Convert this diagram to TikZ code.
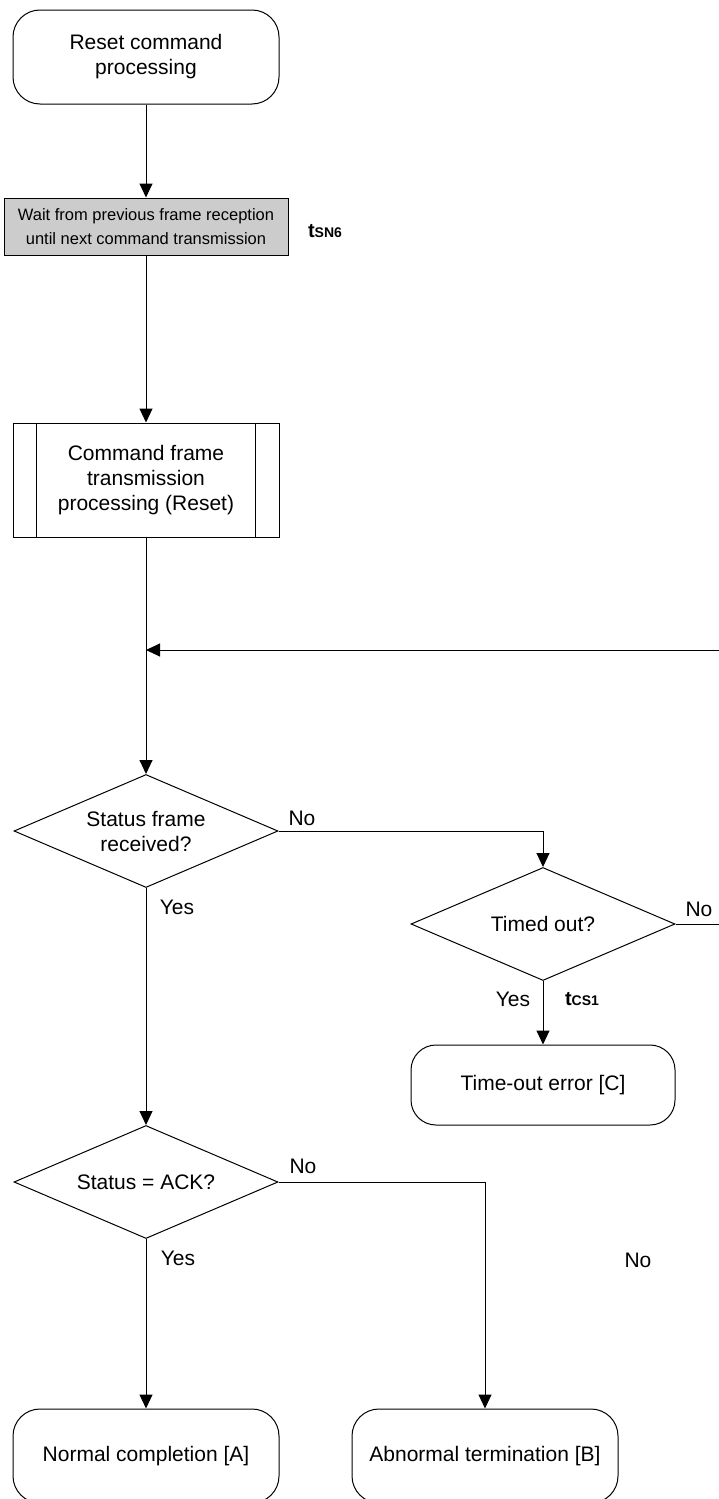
\documentclass[tikz,border=0pt]{standalone}
\usepackage{fontspec}
\setmainfont{Liberation Sans}
\usetikzlibrary{shapes.geometric,arrows.meta}
\begin{document}
\begin{tikzpicture}[x=1pt,y=-1pt,line width=1pt,
  txt/.style={font=\fontsize{21}{25}\selectfont},
  term/.style={draw,rounded corners=27pt,minimum width=266pt,minimum height=94pt,align=center,inner sep=0pt,txt},
  termc/.style={draw,rounded corners=25pt,minimum width=264pt,minimum height=80pt,align=center,inner sep=0pt,txt},
  waitbox/.style={draw,fill=black!20,minimum width=284pt,minimum height=57pt,align=center,inner sep=0pt,font=\fontsize{16.5}{24}\selectfont},
  procbox/.style={draw,minimum width=266pt,minimum height=114pt,align=center,inner sep=0pt,txt},
  decision/.style={draw,diamond,aspect=2.34,minimum width=264pt,minimum height=113pt,inner sep=0pt,align=center,txt},
  lbl/.style={txt,inner sep=0pt},
  tlbl/.style={font=\bfseries,inner sep=0pt},
  arr/.style={-{Triangle[length=14pt,width=13pt]}}]
\useasboundingbox (0,0) rectangle (719,1499);
\clip (0,0) rectangle (719,1499);

\node[term] (start) at (146,57) {Reset command\\processing};
\node[waitbox] (wait) at (146,226.5) {Wait from previous frame reception\\until next command transmission};
\node[tlbl] (tsn) at (325,231) {\fontsize{20}{20}\selectfont t\fontsize{14}{14}\selectfont SN6};
\node[procbox] (cmd) at (146,480) {Command frame\\transmission\\processing (Reset)};
\draw ([xshift=24pt]cmd.north west) -- ([xshift=24pt]cmd.south west);
\draw ([xshift=-24pt]cmd.north east) -- ([xshift=-24pt]cmd.south east);

\node[decision] (d1) at (146,831) {Status frame\\received?};
\node[decision] (d2) at (543,924) {Timed out?};
\node[termc] (tc) at (543,1085) {Time-out error [C]};
\node[decision] (d3) at (146,1182) {Status = ACK?};
\node[term] (ta) at (146,1456) {Normal completion [A]};
\node[term] (tb) at (485,1456) {Abnormal termination [B]};

\coordinate (loopR) at (719,650);
\coordinate (loopL) at (146,650);
\coordinate (noR) at (719,924);

\draw[arr] (start) -- (wait);
\draw[arr] (wait) -- (cmd);
\draw[arr] (cmd) -- (d1);
\draw[arr] (loopR) -- (loopL);
\draw[arr] (d1.east) -| (d2.north);
\draw (d2.east) -- (noR);
\draw[arr] (d2) -- (tc);
\draw[arr] (d1) -- (d3);
\draw[arr] (d3.east) -| (tb.north);
\draw[arr] (d3) -- (ta);

\node[lbl] (no1) at (302,818) {No};
\node[lbl] (yes1) at (177,907) {Yes};
\node[lbl] (no2) at (699,909) {No};
\node[lbl] (yes2) at (513,999) {Yes};
\node[tlbl] (tcs) at (582,999) {\fontsize{20}{20}\selectfont t\fontsize{14}{14}\selectfont CS1};
\node[lbl] (no3) at (303,1166) {No};
\node[lbl] (yes3) at (178,1258) {Yes};
\node[lbl] (no4) at (638,1260) {No};
\end{tikzpicture}
\end{document}
